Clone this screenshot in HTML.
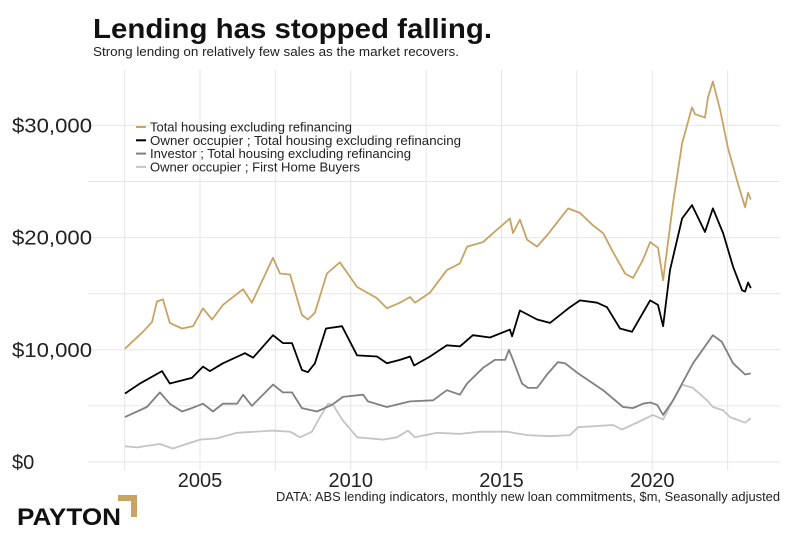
<!DOCTYPE html>
<html><head><meta charset="utf-8"><style>
body{margin:0;background:#fff;width:798px;height:542px;overflow:hidden;font-family:"Liberation Sans",sans-serif}
svg{display:block}
</style></head><body>
<svg id="chart" width="798" height="542">
<text x="93" y="38" font-size="28" font-weight="bold" fill="#111" textLength="399" lengthAdjust="spacingAndGlyphs">Lending has stopped falling.</text>
<text x="93" y="56" font-size="12.5" fill="#222" textLength="366" lengthAdjust="spacingAndGlyphs">Strong lending on relatively few sales as the market recovers.</text>
<g id="grid"></g>
<g id="axes"></g>
<g id="series"></g>
<g id="legend"></g>
<text x="276" y="501" font-size="12.5" fill="#222" textLength="504" lengthAdjust="spacingAndGlyphs">DATA: ABS lending indicators, monthly new loan commitments, $m, Seasonally adjusted</text>
<g>
<text x="17" y="525" font-size="24" font-weight="bold" fill="#111" textLength="104" lengthAdjust="spacingAndGlyphs">PAYTON</text>
<path d="M118 495 L137 495 L137 517 L131 517 L131 501 L118 501 Z" fill="#c8a464"/>
</g>
</svg>
<script>
const yTicks=[0,10000,20000,30000];
const yTickLabels=["$0","$10,000","$20,000","$30,000"];
const xTicks=[2005,2010,2015,2020];
const legendLabels=["Total housing excluding refinancing","Owner occupier ;  Total housing excluding refinancing","Investor ;  Total housing excluding refinancing","Owner occupier ;  First Home Buyers"];
const colors=["#c8a464","#000000","#808080","#c4c4c4"];

const totalYears=[2002.51,2003.11,2003.41,2003.57,2003.77,2004.0,2004.4,2004.77,2005.1,2005.4,2005.76,2006.43,2006.72,2007.42,2007.65,2007.99,2008.38,2008.58,2008.81,2009.21,2009.64,2010.21,2010.87,2011.2,2011.63,2011.97,2012.13,2012.63,2013.19,2013.62,2013.86,2014.39,2014.72,2015.28,2015.38,2015.61,2015.85,2016.18,2016.51,2017.21,2017.6,2018.03,2018.37,2018.7,2019.1,2019.36,2019.69,2019.93,2020.19,2020.36,2020.69,2020.99,2021.32,2021.42,2021.75,2021.85,2022.01,2022.25,2022.51,2022.81,2023.08,2023.18,2023.27];
const totalValues=[10100,11600,12500,14300,14500,12400,11900,12100,13700,12700,14000,15400,14200,18200,16800,16700,13100,12700,13300,16800,17800,15600,14600,13700,14200,14700,14200,15100,17100,17700,19200,19600,20400,21700,20400,21600,19800,19200,20200,22600,22200,21100,20400,18700,16800,16400,18000,19600,19100,16200,23100,28400,31600,31000,30700,32500,33900,31400,28000,25100,22700,24000,23400];

const ownerYears=[2002.51,2003.01,2003.74,2004.0,2004.73,2005.1,2005.33,2005.76,2006.49,2006.76,2007.42,2007.75,2008.05,2008.38,2008.58,2008.81,2009.18,2009.71,2010.21,2010.87,2011.2,2011.63,2011.97,2012.1,2012.63,2013.19,2013.62,2014.05,2014.62,2015.28,2015.35,2015.61,2016.18,2016.61,2017.27,2017.6,2018.17,2018.5,2018.93,2019.33,2019.93,2020.19,2020.36,2020.59,2020.99,2021.32,2021.75,2022.01,2022.35,2022.68,2022.98,2023.08,2023.18,2023.27];
const ownerValues=[6100,7000,8100,7000,7500,8500,8100,8800,9700,9300,11300,10600,10600,8200,8000,8800,11900,12100,9500,9400,8800,9100,9400,8600,9400,10400,10300,11300,11100,11800,11200,13500,12700,12400,13800,14400,14200,13800,11900,11600,14400,14000,12100,17100,21700,22900,20500,22600,20400,17400,15300,15200,16000,15500];

const investorYears=[2002.51,2003.24,2003.67,2004.0,2004.4,2004.73,2005.1,2005.43,2005.76,2006.23,2006.43,2006.72,2007.42,2007.75,2008.05,2008.38,2008.88,2009.38,2009.74,2010.41,2010.57,2011.2,2011.97,2012.73,2013.19,2013.62,2013.86,2014.39,2014.78,2015.12,2015.25,2015.38,2015.68,2015.88,2016.18,2016.51,2016.87,2017.11,2017.54,2018.37,2019.03,2019.36,2019.69,2019.93,2020.16,2020.36,2020.69,2021.35,2022.01,2022.31,2022.68,2023.08,2023.27];
const investorValues=[4000,4900,6200,5200,4500,4800,5200,4500,5200,5200,6000,5000,6900,6200,6200,4800,4500,5100,5800,6000,5400,4900,5400,5500,6400,6000,7000,8400,9100,9100,10000,9100,7000,6600,6600,7800,8900,8800,7900,6400,4900,4800,5200,5300,5100,4200,5500,8800,11300,10700,8800,7800,7900];

const fhbYears=[2002.51,2002.91,2003.67,2004.1,2005.0,2005.56,2006.23,2007.42,2007.99,2008.32,2008.71,2008.98,2009.25,2009.41,2009.74,2010.21,2011.07,2011.53,2011.9,2012.13,2012.86,2013.62,2014.29,2015.18,2015.85,2016.61,2017.27,2017.54,2018.7,2019.0,2019.49,2020.02,2020.36,2020.69,2020.99,2021.35,2021.82,2022.01,2022.35,2022.58,2023.08,2023.27];
const fhbValues=[1400,1300,1600,1200,2000,2100,2600,2800,2700,2200,2700,4000,5200,5100,3700,2200,2000,2200,2800,2200,2600,2500,2700,2700,2400,2300,2400,3100,3300,2900,3500,4200,3800,5500,6900,6600,5500,4900,4600,4000,3500,3900];

const legendWidths=[202,311,261,210];
const NS="http://www.w3.org/2000/svg";
function X(yr){return 200+(yr-2005)*30.15;}
function Y(v){return 462-v*0.01122;}
function mk(tag,attrs,parent){const e=document.createElementNS(NS,tag);for(const k in attrs)e.setAttribute(k,attrs[k]);parent.appendChild(e);return e;}
const grid=document.getElementById('grid'),axes=document.getElementById('axes'),ser=document.getElementById('series'),leg=document.getElementById('legend');
for(let v=0;v<=30000;v+=5000){const l=mk('line',{x1:88,x2:780,y1:Y(v),y2:Y(v),stroke:'#e6e6e6','stroke-width':1},grid);

}
for(let yr=2002.5;yr<=2023.5;yr+=2.5){const l=mk('line',{x1:X(yr),x2:X(yr),y1:70,y2:470,stroke:'#e6e6e6','stroke-width':1},grid);

}
yTicks.forEach((v,i)=>{const t=mk('text',{x:12,y:Y(v)+7,'font-size':20,fill:'#222'},axes);t.textContent=yTickLabels[i];
if(i>0){t.setAttribute('textLength','80');t.setAttribute('lengthAdjust','spacingAndGlyphs');}

});
xTicks.forEach(yr=>{const t=mk('text',{x:X(yr),y:487,'font-size':20,fill:'#222','text-anchor':'middle'},axes);t.textContent=yr;

});
const sets=[[totalYears,totalValues,'total-housing-line'],[ownerYears,ownerValues,'owner-occupier-line'],[investorYears,investorValues,'investor-line'],[fhbYears,fhbValues,'first-home-buyers-line']];
for(let i=sets.length-1;i>=0;i--){const [ys,vs,nm]=sets[i];const d=ys.map((yr,j)=>(j?'L':'M')+X(yr).toFixed(1)+' '+Y(vs[j]).toFixed(1)).join(' ');
const p=mk('path',{d:d,fill:'none',stroke:colors[i],'stroke-width':1.8,'stroke-linejoin':'round'},ser);

}
legendLabels.forEach((lab,i)=>{const y=127+i*13.3;
const ln=mk('line',{x1:136,x2:146,y1:y,y2:y,stroke:colors[i],'stroke-width':2},leg);


const t=mk('text',{x:150,y:y+4.5,'font-size':12.5,fill:'#222',textLength:legendWidths[i],lengthAdjust:'spacingAndGlyphs'},leg);t.textContent=lab;

});
</script>
</body></html>
